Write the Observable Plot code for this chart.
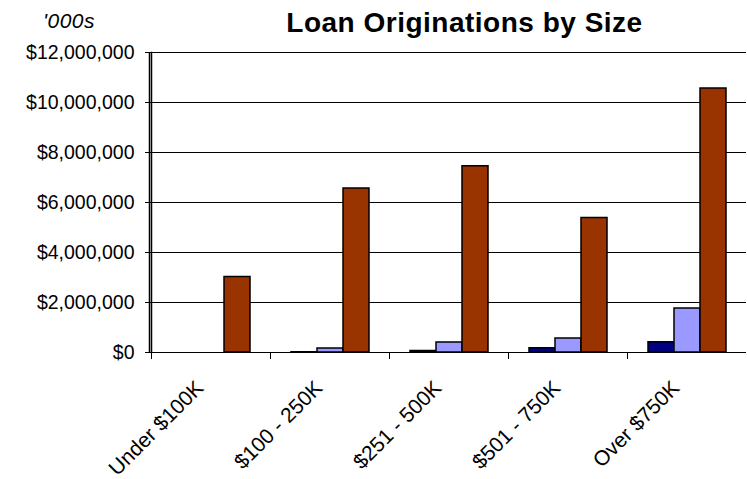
<!DOCTYPE html>
<html>
<head>
<meta charset="utf-8">
<script src="https://cdn.jsdelivr.net/npm/d3@7"></script>
<script src="https://cdn.jsdelivr.net/npm/@observablehq/plot@0.6"></script>
<style>
  html, body { margin: 0; padding: 0; background: #fff; }
  #wrap { position: relative; width: 747px; height: 479px; overflow: hidden; font-family: "Liberation Sans", Arial, sans-serif; }
  #title { position: absolute; left: 464.5px; top: 9px; transform: translateX(-50%); white-space: nowrap;
           font-size: 28px; font-weight: bold; line-height: 1; letter-spacing: 0.5px; color: #000; }
  #units { position: absolute; left: 43px; top: 10px; font-size: 21px; font-style: italic; line-height: 1; letter-spacing: 0.5px; color: #000; }
  #chart, #axis { position: absolute; left: 0; top: 0; width: 747px; height: 479px; }
  #axis { pointer-events: none; }
</style>
</head>
<body>
<div id="wrap">
  <div id="chart"></div>
  <div id="axis"></div>
  <div id="title">Loan Originations by Size</div>
  <div id="units">'000s</div>
</div>
<script>
const categories = ["Under $100K", "$100 - 250K", "$251 - 500K", "$501 - 750K", "Over $750K"];
const seriesNames = ["Series 1", "Series 2", "Series 3"];
const series1 = [0, 10000, 60000, 170000, 410000];
const series2 = [0, 160000, 400000, 560000, 1760000];
const series3 = [3020000, 6560000, 7450000, 5380000, 10560000];
const seriesColors = ["#000080", "#9999FF", "#993300"];
const yTicks = [0, 2000000, 4000000, 6000000, 8000000, 10000000, 12000000];

const seriesValues = [series1, series2, series3];
const data = [];
categories.forEach((c, i) => {
  seriesNames.forEach((s, j) => data.push({category: c, series: s, value: seriesValues[j][i]}));
});

const fmt = d => "$" + d3.format(",")(d);

const layout = {width: 747, height: 479, marginTop: 52, marginBottom: 127, marginLeft: 149, marginRight: 0};

const chart = Plot.plot({
  ...layout,
  style: {fontFamily: "'Liberation Sans', Arial, sans-serif", fontSize: "19.5px", color: "#000", background: "transparent"},
  fx: {domain: categories, padding: 0, label: null, axis: null},
  x: {domain: seriesNames, paddingInner: 0, paddingOuter: 0.75, axis: null},
  y: {domain: [0, 12000000], label: null},
  color: {domain: seriesNames, range: seriesColors},
  marks: [
    Plot.ruleY(yTicks, {stroke: "#000", strokeWidth: 1}),
    Plot.barY(data, {fx: "category", x: "series", y: "value", fill: "series", stroke: "#000", strokeWidth: 1.5}),
    Plot.frame({anchor: "left", fx: categories[0], stroke: "#000", strokeWidth: 1.5}),
    Plot.frame({anchor: "left", insetTop: 300, insetBottom: -6, stroke: "#000", strokeWidth: 1}),
    Plot.axisY({ticks: yTicks, tickFormat: fmt, tickSize: 6, tickPadding: 11, fontSize: 19.5, label: null}),
    Plot.axisFx({anchor: "bottom", tickRotate: -45, tickSize: 0, tickPadding: 32, dx: -11, fontSize: 21, label: null})
  ]
});
document.getElementById("chart").appendChild(chart);

// Vertical value-axis line on a transparent overlay plot sharing the same frame
const axisLayer = Plot.plot({
  ...layout,
  style: {background: "none"},
  x: {domain: [0, 1], axis: null},
  y: {domain: [0, 12000000], axis: null},
  marks: [
    Plot.ruleX([0], {y1: 0, y2: 12000000, stroke: "#000", strokeWidth: 1.5})
  ]
});
document.getElementById("axis").appendChild(axisLayer);
</script>
</body>
</html>
